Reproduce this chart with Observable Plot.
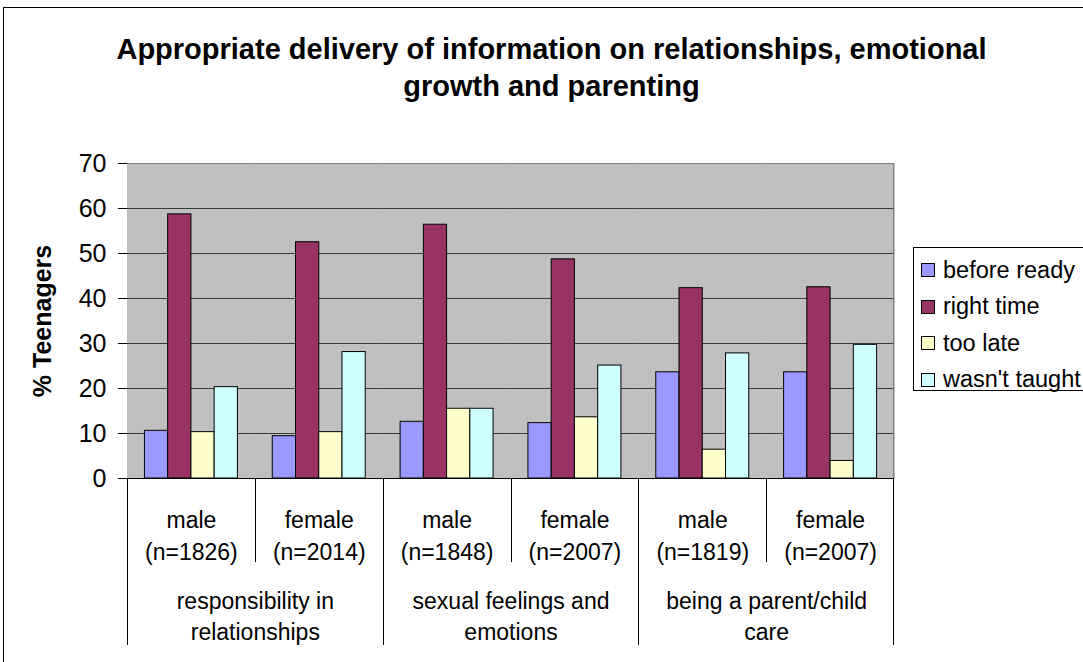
<!DOCTYPE html>
<html>
<head>
<meta charset="utf-8">
<script src="https://cdn.jsdelivr.net/npm/d3@7"></script>
<script src="https://cdn.jsdelivr.net/npm/@observablehq/plot@0.6"></script>
<style>
  body { margin: 0; background: #fff; }
  #chart { position: relative; width: 1083px; height: 662px; overflow: hidden; background: #fff;
           font-family: "Liberation Sans", Arial, sans-serif; color: #000; }
  #border { position: absolute; left: 3px; top: 7px; width: 1200px; height: 700px; border: 1px solid #000; }
  #title { position: absolute; left: 20px; top: 31px; width: 1063px; text-align: center;
           font-weight: bold; font-size: 29px; line-height: 37px; }
  #plot { position: absolute; left: 0; top: 120px; }
  #legend { position: absolute; left: 913px; top: 247px; width: 220px; height: 144px;
            border: 1px solid #000; box-sizing: border-box; padding-top: 4px; background: #fff; }
  .item { display: flex; align-items: center; height: 36.5px; font-size: 23.5px; white-space: nowrap; }
  .sw { width: 12px; height: 12px; border: 1px solid #000; margin-left: 7px; margin-right: 8px; flex: none; }
  #plot svg [aria-label="y-axis label"], #plot svg [aria-label="y-axis label"] text { font-weight: bold; font-size: 25px; }
</style>
</head>
<body>
<div id="chart">
  <div id="border"></div>
  <div id="title">Appropriate delivery of information on relationships, emotional<br>growth and parenting</div>
  <div id="plot"></div>
  <div id="legend"></div>
</div>
<script>
// ---- data ----
const topicLabels = ["responsibility in\nrelationships", "sexual feelings and\nemotions", "being a parent/child\ncare"];
const genders = ["male", "female"];
const sampleSizes = [1826, 2014, 1848, 2007, 1819, 2007];
const series = ["before ready", "right time", "too late", "wasn't taught"];
const beforeReady  = [10.6, 9.4, 12.6, 12.3, 23.6, 23.6];
const rightTime    = [58.7, 52.5, 56.4, 48.7, 42.3, 42.5];
const tooLate      = [10.3, 10.3, 15.5, 13.6, 6.4, 3.9];
const wasntTaught  = [20.3, 28.1, 15.5, 25.1, 27.8, 29.7];
const yTicks = [0, 10, 20, 30, 40, 50, 60, 70];
const colors = ["#9999FF", "#993366", "#FFFFCC", "#CCFFFF"];
const yLabel = "% Teenagers";

// ---- build tables ----
const seriesValues = [beforeReady, rightTime, tooLate, wasntTaught];
const keys = sampleSizes.map((n, i) => "g" + i);
const rows = [];
keys.forEach((k, i) => series.forEach((s, j) => rows.push({key: k, series: s, value: seriesValues[j][i]})));
const groupRows = keys.map((k, i) => ({
  key: k, gender: genders[i % 2], n: sampleSizes[i],
  topic: topicLabels[Math.floor(i / 2)], first: i % 2 === 0
}));

const font = "'Liberation Sans', Arial, sans-serif";
const plot = Plot.plot({
  width: 1083, height: 542,
  marginTop: 43, marginBottom: 184, marginLeft: 127, marginRight: 189,
  style: {fontFamily: font, fontSize: "25px", color: "#000", background: "transparent", overflow: "visible"},
  fx: {domain: keys, padding: 0, round: false, axis: null},
  x: {domain: series, paddingInner: 0, paddingOuter: 0.75, round: false, axis: null},
  y: {domain: [0, 70], ticks: yTicks, tickSize: 9, tickPadding: 12, line: true,
      label: yLabel, labelAnchor: "center", labelOffset: 94, labelArrow: "none"},
  color: {domain: series, range: colors},
  marks: [
    Plot.frame({fill: "#C0C0C0", stroke: "#C0C0C0", strokeWidth: 1}),
    Plot.ruleY(yTicks.filter(t => t > 0 && t < 70), {stroke: "#3a3a3a", strokeWidth: 1}),
    Plot.ruleY([70], {stroke: "#808080", strokeWidth: 1}),
    Plot.barY(rows, {fx: "key", x: "series", y: "value", fill: "series", stroke: "#000", strokeWidth: 1}),
    Plot.ruleY([0], {stroke: "#000", strokeWidth: 1}),
    Plot.text(groupRows, {fx: "key", frameAnchor: "bottom", text: d => `${d.gender}\n(n=${d.n})`,
      lineAnchor: "middle", lineHeight: 1.38, dy: 55, fontSize: 23}),
    Plot.text(groupRows.filter(d => d.first), {fx: "key", frameAnchor: "bottom-right", text: "topic",
      textAnchor: "middle", lineAnchor: "middle", lineHeight: 1.36, dy: 136, fontSize: 23})
  ]
});
document.getElementById("plot").appendChild(plot);

// separators below the axis, placed from the fx / y scales
const fx = plot.scale("fx");
const ys = plot.scale("y");
const y0 = ys.apply(0), yTop = ys.apply(70);
const svg = d3.select(plot);
const bw = fx.bandwidth;
const g = svg.append("g").attr("stroke", "#000").attr("stroke-width", 1);
keys.forEach((k, i) => {
  const x = Math.round(fx.apply(k)) + 0.5;
  g.append("line").attr("x1", x).attr("x2", x).attr("y1", y0).attr("y2", y0 + (i % 2 ? 84 : 167));
});
const xr = Math.round(fx.apply(keys[keys.length - 1]) + bw) - 0.5;
g.append("line").attr("x1", xr).attr("x2", xr).attr("y1", y0).attr("y2", y0 + 167);
svg.append("line").attr("x1", xr).attr("x2", xr).attr("y1", yTop).attr("y2", y0).attr("stroke", "#808080");

// legend
const legend = d3.select("#legend");
series.forEach((s, i) => {
  const it = legend.append("div").attr("class", "item");
  it.append("div").attr("class", "sw").style("background", colors[i]);
  it.append("span").text(s);
});
</script>
</body>
</html>
